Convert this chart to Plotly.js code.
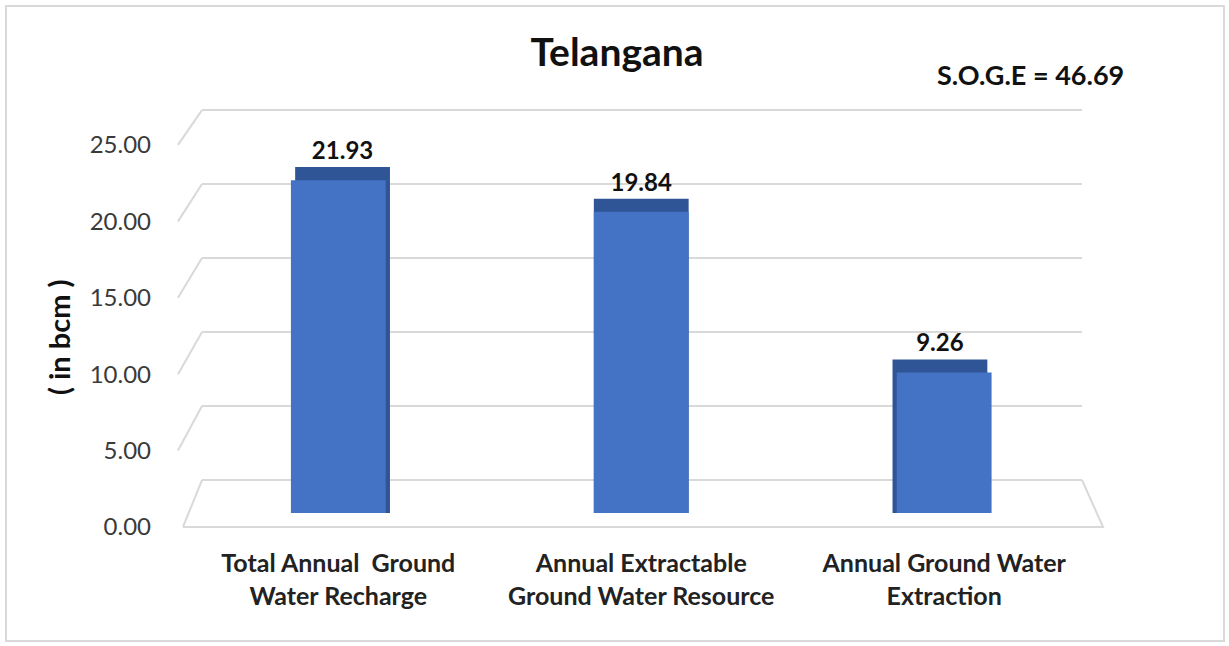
<!DOCTYPE html>
<html>
<head>
<meta charset="utf-8">
<script src="https://cdn.plot.ly/plotly-3.0.1.min.js"></script>
<style>
  html, body { margin: 0; padding: 0; background: #ffffff; }
  #wrap { position: relative; width: 1229px; height: 646px; }
  #chart { position: absolute; left: 0; top: 0; width: 1229px; height: 646px; }
  #frame { position: absolute; left: 5px; top: 5px; width: 1216px; height: 633px;
           border: 2px solid #d9d9d9; pointer-events: none; }
</style>
</head>
<body>
<div id="wrap">
  <div id="chart"></div>
  <div id="frame"></div>
</div>
<script>
// ---- data ----
const categories = [
  'Total Annual  Ground<br>Water Recharge',
  'Annual Extractable<br>Ground Water Resource',
  'Annual Ground Water<br>Extraction'
];
const values = [21.93, 19.84, 9.26];
const tickVals = [0, 5, 10, 15, 20, 25];
const tickLabels = ['0.00', '5.00', '10.00', '15.00', '20.00', '25.00'];
const chartTitle = 'Telangana';
const sogeText = 'S.O.G.E = 46.69';
const yTitle = '( in bcm )';

// ---- style constants ----
const FONT = 'Lato, "Open Sans", "Liberation Sans", sans-serif';
const front = '#4472C4';
const dark = '#2F5597';
const grid = '#d9d9d9';
const topDepth = 0.86;          // thickness of the top face, in value units
const barW = 0.313;
const sideShift = [0.014, 0, -0.014];

// axis ranges (all share the same plot domain)
const barRange = [-1.779, 27.21];   // bars (mid depth)
const labRange = [-0.851, 27.94];   // front (labels)
const gridRange = [-4.054, 25.68];  // back wall
const xRange = [-0.45, 2.455];

const xs = categories.map((c, i) => i);

function py(v, r) { return (v - r[0]) / (r[1] - r[0]); }

const traces = [
  {
    type: 'bar', x: xs, y: values.map(v => v + topDepth),
    width: barW, offset: sideShift.map(s => -barW / 2 + s),
    marker: { color: dark }, yaxis: 'y',
    text: values.map(v => v.toFixed(2)), textposition: 'outside',
    textfont: { family: FONT, size: 24, color: '#111111', weight: 'bold' },
    texttemplate: '<b>%{text}</b>', cliponaxis: false,
    hoverinfo: 'skip', showlegend: false
  },
  {
    type: 'bar', x: xs, y: values,
    width: barW, offset: -barW / 2,
    marker: { color: front }, yaxis: 'y',
    hoverinfo: 'skip', showlegend: false
  },
  { type: 'scatter', x: [0], y: [0], yaxis: 'y2', mode: 'markers',
    marker: { opacity: 0 }, hoverinfo: 'skip', showlegend: false },
  { type: 'scatter', x: [0], y: [0], yaxis: 'y3', mode: 'markers',
    marker: { opacity: 0 }, hoverinfo: 'skip', showlegend: false }
];

// left-wall slants and floor front edge
const shapes = [];
const xLeftFront = -0.0273, xBackLeft = 0;
tickVals.forEach(v => {
  if (v === 0) return;
  shapes.push({ type: 'line', xref: 'paper', yref: 'paper', layer: 'below',
    x0: xLeftFront, y0: py(v, labRange), x1: xBackLeft, y1: py(v, gridRange),
    line: { color: grid, width: 2 } });
});
shapes.push({ type: 'path', xref: 'paper', yref: 'paper', layer: 'below',
  path: `M ${-0.0216} ${py(0, labRange)} L 0 ${py(0, gridRange)} M ${-0.0216} ${py(0, labRange)} L 1.0239 ${py(0, labRange)} L 1 ${py(0, gridRange)}`,
  line: { color: grid, width: 2 } });

const layout = {
  width: 1229, height: 646,
  margin: { l: 202, r: 147, t: 100, b: 106 },
  paper_bgcolor: '#ffffff', plot_bgcolor: 'rgba(0,0,0,0)',
  font: { family: FONT, color: '#222222' },
  barmode: 'overlay',
  title: { text: '<b>' + chartTitle + '</b>', font: { family: FONT, size: 39, color: '#111111' },
    xref: 'container', x: 617 / 1229, yref: 'container', y: 1 - 52 / 646, yanchor: 'middle', xanchor: 'center' },
  xaxis: {
    type: 'linear', range: xRange, tickvals: xs, ticktext: categories.map(c => '<b>' + c + '</b>'),
    showgrid: false, zeroline: false, showline: false, ticks: '',
    tickfont: { family: FONT, size: 25, color: '#222222' }, ticklabelstandoff: 6
  },
  yaxis: { range: barRange, showgrid: false, zeroline: false, showticklabels: false, ticks: '' },
  yaxis2: {
    range: labRange, overlaying: 'y', side: 'left', tickvals: tickVals, ticktext: tickLabels,
    showgrid: false, zeroline: false, showline: false, ticks: '',
    tickfont: { family: FONT, size: 24, color: '#3a3a3a' }, ticklabelstandoff: 50
  },
  yaxis3: {
    range: gridRange, overlaying: 'y', side: 'left', tickvals: tickVals,
    showgrid: true, gridcolor: grid, gridwidth: 2, zeroline: false,
    showticklabels: false, ticks: ''
  },
  shapes: shapes,
  annotations: [
    { text: '<b>' + sogeText + '</b>', xref: 'paper', yref: 'paper',
      x: (1030 - 202) / 880, y: (540 - 75) / 440, xanchor: 'center', yanchor: 'middle', showarrow: false,
      font: { family: FONT, size: 27, color: '#111111' } },
    { text: '<b>' + yTitle + '</b>', xref: 'paper', yref: 'paper',
      x: (58 - 202) / 880, y: (540 - 337) / 440, xanchor: 'center', yanchor: 'middle', showarrow: false, textangle: -90,
      font: { family: FONT, size: 29, color: '#111111' } }
  ]
};

Plotly.newPlot('chart', traces, layout, { displayModeBar: false, staticPlot: true });
</script>
</body>
</html>
